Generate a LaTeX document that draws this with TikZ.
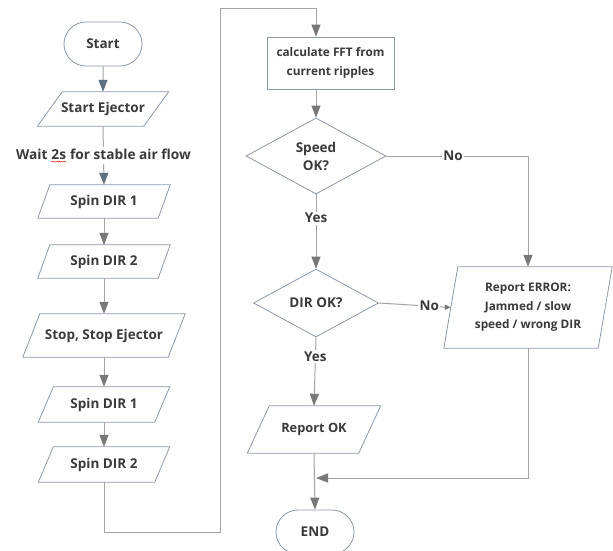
\documentclass[tikz,border=0pt]{standalone}
\usepackage{fontspec}
\setmainfont{Open Sans}
\usetikzlibrary{shapes.geometric,shapes.misc,arrows.meta,decorations.pathmorphing}

\definecolor{txt}{HTML}{3A3A3A}
\definecolor{edge}{HTML}{8C9AA6}
\definecolor{wire}{HTML}{A4A4A4}
\definecolor{tipgray}{HTML}{787878}
\definecolor{tipblue}{HTML}{5E7182}

% outline of a slanted data box around a named (undrawn) rectangle node
% #1 = node name, #2 = horizontal slant in pt
\newcommand\dataoutline[2]{%
  \draw[edge, line width=0.8pt, fill=white]
    (#1.south west) -- ([xshift=-#2pt]#1.south east) -- (#1.north east)
    -- ([xshift=#2pt]#1.north west) -- cycle;}

% word with a red wavy spelling underline
\newcommand\spellmark[1]{\tikz[baseline=(sm.base), x=1pt, y=1pt]{%
  \node[inner sep=0pt, text=txt, font=\fontsize{13.7}{18}\selectfont\bfseries] (sm) {#1};
  \draw[arrows=-, draw=red!85!black, line width=0.4pt, decorate,
        decoration={snake, amplitude=0.6pt, segment length=2.4pt}]
    ([yshift=-2.5pt]sm.base west) -- ([yshift=-2.5pt]sm.base east);}}

\begin{document}
\begin{tikzpicture}[x=1pt,y=-1pt,
  every node/.style={font=\fontsize{13.5}{18}\selectfont\bfseries, text=txt},
  small/.style={font=\fontsize{11.8}{18.5}\selectfont\bfseries},
  term/.style={rounded rectangle, draw=edge, line width=0.8pt, fill=white,
    minimum width=78pt, minimum height=44pt, inner sep=0pt},
  databox/.style={rectangle, inner sep=0pt, align=center},
  procbox/.style={rectangle, draw=edge, line width=0.8pt, fill=white, align=center,
    minimum width=127pt, minimum height=52pt, inner sep=0pt},
  decide/.style={diamond, draw=edge, line width=0.8pt, fill=white, align=center, inner sep=0pt},
  wirestyle/.style={draw=wire, line width=1pt},
  flow/.style={wirestyle, -{Triangle[length=12pt,width=9pt,color=tipgray]}},
  flowb/.style={wirestyle, -{Triangle[length=12pt,width=9pt,color=tipblue]}},
  flows/.style={wirestyle, -{Triangle[length=6pt,width=5pt,color=tipgray]}},
  tag/.style={fill=white, inner sep=1.5pt}
]
\fill[white] (0,0) rectangle (613,550);
\useasboundingbox (0,0) rectangle (613,550);

% left column
\node[term] (start) at (103,44) {Start};
\node[databox, minimum width=131pt, minimum height=34pt] (ej) at (103,109) {};
\node[databox, minimum width=132pt, minimum height=33pt] (s1a) at (104,201.5) {};
\node[databox, minimum width=132pt, minimum height=33pt] (s2a) at (104,261.5) {};
\node[databox, minimum width=162pt, minimum height=43pt] (stop) at (104,335.5) {};
\node[databox, minimum width=131pt, minimum height=35pt] (s1b) at (104,404.5) {};
\node[databox, minimum width=131pt, minimum height=35pt] (s2b) at (104,464.5) {};

% right column
\node[procbox, small] (fft) at (330.5,63) {calculate FFT from\\current ripples};
\node[decide, minimum width=140pt, minimum height=76pt, aspect=1.84] (speed) at (316,156) {Speed\\OK?};
\node[decide, minimum width=125pt, minimum height=68pt, aspect=1.84] (dir) at (316,303) {DIR OK?};
\node[databox, minimum width=168pt, minimum height=81pt] (err) at (528,307.5) {};
\node[databox, minimum width=133pt, minimum height=47pt] (ok) at (314,429.5) {};
\node[term] (fin) at (315,532) {END};

% slanted outlines
\dataoutline{ej}{25}
\dataoutline{s1a}{12}
\dataoutline{s2a}{12}
\dataoutline{stop}{17}
\dataoutline{s1b}{15}
\dataoutline{s2b}{15}
\dataoutline{err}{14}
\dataoutline{ok}{22}

% texts of the slanted boxes
\node at (ej) {Start Ejector};
\node at (s1a) {Spin DIR 1};
\node at (s2a) {Spin DIR 2};
\node at (stop) {Stop, Stop Ejector};
\node at (s1b) {Spin DIR 1};
\node at (s2b) {Spin DIR 2};
\node[small, align=center] at (err) {Report ERROR:\\Jammed / slow\\speed / wrong DIR};
\node[font=\fontsize{12.8}{18}\selectfont\bfseries] at (ok) {Report OK};

\coordinate (loopA) at (220,532);
\coordinate (loopB) at (220,8);
\coordinate (merge) at (316,478);
\coordinate (errin) at ([xshift=7pt]err.west);

% connectors
\draw[flowb] (start) -- (ej);
\draw[flowb] (ej.south) -- node[tag, font=\fontsize{13.7}{18}\selectfont\bfseries]
  {Wait \spellmark{2s} for stable air flow} (s1a.north);
\draw[flow] (s1a) -- (s2a);
\draw[flow] (s2a) -- (stop);
\draw[flow] (stop) -- (s1b);
\draw[flow] (s1b) -- (s2b);
\draw[flow] (s2b.south) |- (loopA) -- (loopB) -| (fft.north -| speed.north);
\draw[flow] (fft.south -| speed.north) -- (speed.north);
\draw[flow] (speed.south) -- node[tag, pos=0.32] {Yes} (dir.north);
\draw[flow] (speed.east) -- node[tag, pos=0.47] {No} (speed.east -| err.north) -- (err.north);
\draw[flows] (dir.east) -- node[tag, pos=0.7] {No} (errin);
\draw[flow] (dir.south) -- node[tag, pos=0.28] {Yes} (ok.north);
\draw[flow] (err.south) |- (merge);
\draw[flow] (ok.south) -- (fin.north);
\end{tikzpicture}
\end{document}
